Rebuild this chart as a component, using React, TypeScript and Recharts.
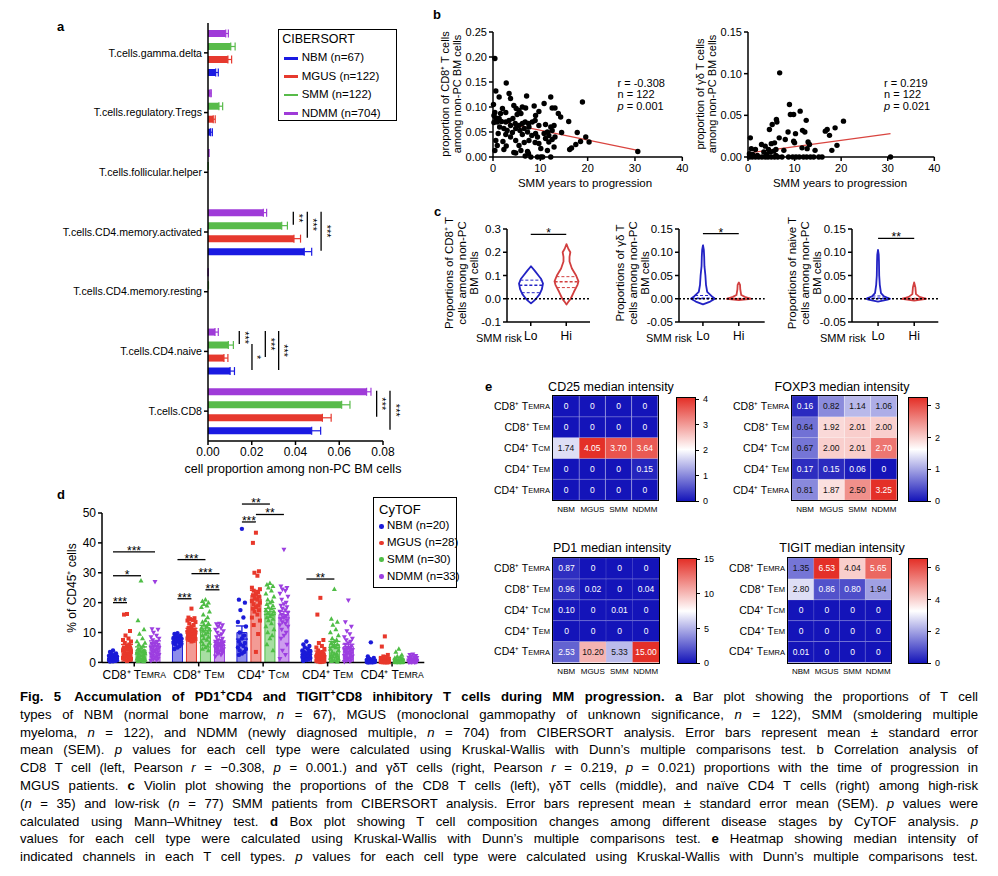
import React from 'react';
import {
  BarChart, Bar, XAxis, YAxis, ErrorBar, ReferenceLine, ScatterChart, Scatter,
  ComposedChart, Cell, LabelList,
} from 'recharts';

const FONT = '"Liberation Sans", Arial, Helvetica, sans-serif';
const BLUE = '#1a1ae2';
const RED = '#e6392e';
const GREEN = '#58bb4a';
const PURPLE = '#9f3bd8';
const AX = { stroke: '#000', strokeWidth: 1.5 };

// ---------- panel a (CIBERSORT) ----------
const aCells = [
  'T.cells.gamma.delta', 'T.cells.regulatory.Tregs', 'T.cells.follicular.helper',
  'T.cells.CD4.memory.activated', 'T.cells.CD4.memory.resting', 'T.cells.CD4.naive', 'T.cells.CD8',
];
const aNBM = [0.0035, 0.0012, 0, 0.044, 0, 0.0101, 0.0474];
const aMGUS = [0.0091, 0.0024, 0, 0.0393, 0, 0.0073, 0.0523];
const aSMM = [0.0104, 0.005, 0.0001, 0.0337, 0.0002, 0.0093, 0.0611];
const aNDMM = [0.0081, 0.001, 0.0004, 0.0253, 0.0001, 0.0032, 0.0725];
const aNBMErr = [0.0012, 0.0008, 0, 0.0034, 0, 0.002, 0.0041];
const aMGUSErr = [0.0017, 0.0009, 0, 0.003, 0, 0.0018, 0.004];
const aSMMErr = [0.002, 0.0017, 0, 0.0026, 0, 0.0023, 0.0038];
const aNDMMErr = [0.0012, 0.0005, 0, 0.0015, 0, 0.0015, 0.002];
const aLegend = ['NBM (n=67)', 'MGUS (n=122)', 'SMM (n=122)', 'NDMM (n=704)'];
// brackets: category, first bar, last bar (0 = NDMM on top), x position in data units
const aSig = [
  { cell: 3, from: 0, to: 1, x: 0.039, label: '**' },
  { cell: 3, from: 0, to: 2, x: 0.0454, label: '***' },
  { cell: 3, from: 0, to: 3, x: 0.0517, label: '***' },
  { cell: 5, from: 0, to: 1, x: 0.0143, label: '***' },
  { cell: 5, from: 1, to: 3, x: 0.0201, label: '*' },
  { cell: 5, from: 0, to: 2, x: 0.0262, label: '***' },
  { cell: 5, from: 0, to: 3, x: 0.0323, label: '***' },
  { cell: 6, from: 0, to: 2, x: 0.0771, label: '***' },
  { cell: 6, from: 0, to: 3, x: 0.0832, label: '***' },
];

// ---------- panel b (correlation) ----------
const cd8Points = [
  [0.4, 0.197], [0.6, 0.132], [2.8, 0.148], [1.3, 0.12], [3.4, 0.127], [3.7, 0.117], [7.1, 0.122], [12.2, 0.12],
  [18.9, 0.11], [0.1, 0.105], [2.0, 0.097], [0.4, 0.089], [0.6, 0.078], [1.6, 0.087], [2.7, 0.089], [4.4, 0.103],
  [4.9, 0.097], [5.5, 0.093], [6.2, 0.1], [6.9, 0.098], [8.7, 0.102], [9.7, 0.091], [9.0, 0.083], [10.8, 0.107],
  [12.5, 0.098], [13.1, 0.098], [13.8, 0.087], [14.3, 0.08], [5.1, 0.085], [5.9, 0.087], [4.2, 0.077], [3.4, 0.073],
  [2.7, 0.07], [1.8, 0.071], [0.9, 0.07], [0.2, 0.069], [4.7, 0.067], [5.5, 0.063], [6.2, 0.067], [6.8, 0.07],
  [7.5, 0.067], [8.3, 0.07], [8.9, 0.073], [4.8, 0.057], [5.7, 0.053], [6.6, 0.057], [7.6, 0.06], [9.7, 0.063],
  [11.1, 0.065], [12.2, 0.06], [12.9, 0.063], [16.0, 0.071], [1.4, 0.06], [2.3, 0.057], [3.0, 0.053], [4.1, 0.049],
  [1.1, 0.047], [2.7, 0.045], [3.7, 0.04], [6.2, 0.045], [7.3, 0.05], [8.2, 0.043], [9.0, 0.047], [10.8, 0.047],
  [11.5, 0.05], [12.5, 0.053], [14.5, 0.049], [11.8, 0.043], [17.8, 0.049], [19.6, 0.04], [20.3, 0.03], [0.6, 0.033],
  [2.1, 0.031], [4.8, 0.033], [7.6, 0.033], [9.4, 0.04], [11.1, 0.037], [12.5, 0.035], [13.1, 0.04], [18.5, 0.031],
  [17.5, 0.025], [16.6, 0.018], [16.2, 0.015], [0.9, 0.023], [2.8, 0.022], [5.5, 0.023], [6.6, 0.029], [8.9, 0.029],
  [9.7, 0.027], [11.8, 0.03], [12.9, 0.02], [0.4, 0.013], [2.3, 0.015], [5.9, 0.013], [7.3, 0.011], [10.1, 0.017],
  [11.5, 0.013], [4.4, 0.009], [4.8, 0.008], [6.8, 0.002], [7.5, 0.007], [9.4, 0], [10.1, 0], [10.5, 0], [12.2, 0],
  [8.0, 0], [30.6, 0.011], [0.2, 0.083], [1.3, 0.077], [3.7, 0.063],
];
const gdPoints = [
  [8.9, 0.063], [9.1, 0.051], [9.8, 0.051], [11.2, 0.055], [12.5, 0.044], [20.5, 0.043], [6.1, 0.045], [6.2, 0.042],
  [5.2, 0.039], [4.6, 0.033], [0.5, 0.023], [8.6, 0.03], [10.2, 0.028], [11.7, 0.032], [12.2, 0.03], [16.6, 0.031],
  [17.0, 0.033], [18.7, 0.035], [17.5, 0.026], [6.7, 0.023], [8.0, 0.021], [9.8, 0.019], [10.0, 0.017], [12.9, 0.018],
  [13.2, 0.015], [19.1, 0.014], [18.0, 0.008], [2.9, 0.015], [3.7, 0.013], [5.0, 0.016], [5.7, 0.017], [4.4, 0.009],
  [4.8, 0.006], [5.5, 0.007], [6.0, 0.009], [3.4, 0.006], [1.6, 0.009], [0.7, 0.01], [0.3, 0.004], [11.6, 0.011],
  [12.7, 0.01], [14.4, 0.008], [7.7, 0.008], [6.8, 0.101], [15.9, 0], [0.3, 0], [0.9, 0], [1.6, 0], [2.3, 0], [3.0, 0],
  [3.7, 0], [4.3, 0], [5.0, 0], [5.7, 0], [6.4, 0], [7.3, 0], [8.7, 0], [9.6, 0], [10.3, 0], [11.0, 0], [11.9, 0],
  [12.6, 0], [13.4, 0], [14.1, 0], [15.2, 0], [30.6, 0], [2.0, 0.002], [4.0, 0.003], [6.0, 0.002], [1.0, 0.003],
];
const cd8Fit = { intercept: 0.073, slope: -0.00195 };
const gdFit = { intercept: 0.0048, slope: 0.00076 };
const cd8Stats = ['-0.308', '122', '0.001'];
const gdStats = ['0.219', '122', '0.021'];

// ---------- panel c (violins) ----------
const riskGroups = ['Lo', 'Hi'];
const cd8LoProfile = [[-0.02, 0], [-0.01, 0.22], [0, 0.42], [0.02, 0.72], [0.04, 0.9], [0.065, 1], [0.085, 0.85], [0.1, 0.62], [0.12, 0.32], [0.14, 0]];
const cd8HiProfile = [[-0.025, 0], [-0.01, 0.2], [0, 0.35], [0.03, 0.62], [0.06, 0.92], [0.075, 1], [0.1, 0.8], [0.13, 0.45], [0.16, 0.25], [0.18, 0.25], [0.2, 0.32], [0.215, 0.15], [0.235, 0]];
const gdLoProfile = [[-0.012, 0], [-0.006, 0.6], [0, 1], [0.006, 0.7], [0.015, 0.35], [0.03, 0.25], [0.05, 0.2], [0.07, 0.12], [0.09, 0.1], [0.105, 0.07], [0.115, 0]];
const gdHiProfile = [[-0.003, 0], [0, 1], [0.004, 0.5], [0.008, 0.2], [0.02, 0.12], [0.03, 0.1], [0.035, 0]];
const naiveLoProfile = [[-0.006, 0], [-0.002, 0.8], [0, 1], [0.005, 0.5], [0.012, 0.25], [0.03, 0.15], [0.05, 0.1], [0.08, 0.08], [0.095, 0.06], [0.105, 0]];
const naiveHiProfile = [[-0.004, 0], [0, 1], [0.004, 0.45], [0.01, 0.15], [0.025, 0.1], [0.035, 0]];
const cd8LoQuart = [0.026, 0.058, 0.08];
const cd8HiQuart = [0.048, 0.073, 0.095];
const gdLoQuart = [0, 0.001, 0.007];
const gdHiQuart = [0, 0, 0.001];
const naiveLoQuart = [0, 0.001, 0.006];
const naiveHiQuart = [0, 0, 0.001];

// ---------- panel d (CyTOF) ----------
const dCells = ['CD8⁺ TEMRA', 'CD8⁺ TEM', 'CD4⁺ TCM', 'CD4⁺ TEM', 'CD4⁺ TEMRA'];
const dLegend = ['NBM (n=20)', 'MGUS (n=28)', 'SMM (n=30)', 'NDMM (n=33)'];
const dNBMMean = [1.6, 7.4, 10.0, 3.1, 0.7];
const dMGUSMean = [5.2, 10.9, 22.5, 3.0, 1.2];
const dSMMMean = [4.2, 11.5, 17.0, 6.0, 0.9];
const dNDMMMean = [6.3, 6.2, 16.0, 5.3, 0.9];
const dNBMSem = [0.3, 0.4, 2.2, 0.4, 0.3];
const dMGUSSem = [0.8, 0.5, 1.6, 0.8, 0.4];
const dSMMSem = [1.0, 0.9, 1.0, 1.0, 0.2];
const dNDMMSem = [0.9, 0.5, 1.1, 0.8, 0.1];
const dNBMPts = [
  [4.0, 3.5, 3.0, 2.8, 2.5, 2.2, 2.0, 1.8, 1.6, 1.5, 1.3, 1.2, 1.0, 0.9, 0.8, 0.7, 0.6, 0.5, 0.4, 0.3],
  [9.8, 9.5, 9.0, 8.8, 8.5, 8.2, 8.0, 7.8, 7.6, 7.5, 7.3, 7.2, 7.0, 6.8, 6.5, 6.2, 6.0, 5.5, 5.0, 4.5],
  [44.7, 21, 20, 17.5, 15, 13.5, 12, 10, 9, 8, 7, 6.5, 6, 5.5, 5, 4.5, 4, 3.5, 3, 2.5],
  [7, 6, 5.5, 5, 4.5, 4, 3.8, 3.5, 3.2, 3, 2.8, 2.5, 2.2, 2, 1.8, 1.5, 1.2, 1, 0.8, 0.5],
  [6.7, 2, 1.5, 1.2, 1, 0.8, 0.6, 0.5, 0.4, 0.3, 0.3, 0.2, 0.2, 0.1, 0.1, 0.1, 0.05, 0.05, 0, 0],
];
const dMGUSPts = [
  [16.2, 16, 10.5, 9, 8, 7.5, 7, 6.5, 6, 5.5, 5, 5, 4.5, 4.2, 4, 3.5, 3.2, 3, 2.8, 2.5, 2.2, 2, 1.8, 1.5, 1.2, 1, 0.8, 0.5],
  [18, 15, 14.8, 14.5, 14.2, 14, 13.5, 13, 12.5, 12, 11.5, 11, 10.8, 10.5, 10.2, 10, 9.8, 9.5, 9.2, 9, 8.8, 8.5, 8.2, 8, 7.8, 7.5, 7.2, 7],
  [43.4, 40, 30.5, 30, 29, 25, 24.5, 24, 23.5, 23, 22.5, 22, 21.5, 21, 20.5, 20, 19.5, 19, 18.5, 18, 17.5, 17, 16, 15, 14, 12.5, 9.5, 3.5],
  [21.6, 16, 7.5, 6.5, 5.5, 5, 4.5, 4, 3.5, 3.2, 3, 2.8, 2.5, 2.2, 2, 1.8, 1.5, 1.3, 1.2, 1, 0.9, 0.8, 0.6, 0.5, 0.4, 0.3, 0.2, 0.1],
  [8.7, 5.3, 2.5, 2, 1.8, 1.5, 1.2, 1, 0.9, 0.8, 0.7, 0.6, 0.5, 0.5, 0.4, 0.4, 0.3, 0.3, 0.2, 0.2, 0.2, 0.1, 0.1, 0.1, 0.05, 0.05, 0, 0],
];
const dSMMPts = [
  [27.3, 14, 11, 9.5, 8, 7, 6.5, 6, 5.5, 5, 4.5, 4, 4, 3.5, 3.2, 3, 2.8, 2.5, 2.2, 2, 1.8, 1.6, 1.4, 1.2, 1, 0.8, 0.6, 0.5, 0.4, 0.3],
  [21, 20.5, 20, 19.5, 19, 18.5, 17, 16, 15, 14, 13.5, 13, 12.5, 12, 11.5, 11, 10.5, 10, 9.5, 9, 8.5, 8, 7.5, 7, 6.5, 6, 5.5, 5, 4.5, 4],
  [26.5, 26, 25.5, 25, 24, 23, 22, 21, 20.5, 20, 19.5, 19, 18.5, 18, 17.5, 17, 16.5, 16, 15.5, 15, 14.5, 14, 13, 12, 11, 10, 9, 8, 6, 4],
  [24.5, 14.5, 13.5, 12.5, 11, 10, 9, 8, 7.5, 7, 6.5, 6, 5.5, 5, 4.5, 4, 3.5, 3, 2.8, 2.5, 2.2, 2, 1.8, 1.5, 1.2, 1, 0.8, 0.6, 0.4, 0.2],
  [4.5, 3.5, 2.5, 2, 1.8, 1.5, 1.2, 1, 0.9, 0.8, 0.7, 0.6, 0.5, 0.5, 0.4, 0.4, 0.3, 0.3, 0.2, 0.2, 0.2, 0.1, 0.1, 0.1, 0.1, 0.05, 0.05, 0, 0, 0],
];
const dNDMMPts = [
  [27, 11.2, 11, 10, 9, 8.5, 8, 7.5, 7, 6.5, 6.2, 6, 5.5, 5.2, 5, 4.8, 4.5, 4.2, 4, 3.8, 3.5, 3.2, 3, 2.8, 2.5, 2.2, 2, 1.8, 1.5, 1.2, 1, 0.8, 0.5],
  [13, 12.8, 12.5, 12, 11.5, 11, 10.5, 10, 9.5, 9, 8.5, 8, 7.5, 7.2, 7, 6.8, 6.5, 6.2, 6, 5.8, 5.5, 5.2, 5, 4.8, 4.5, 4.2, 4, 3.8, 3.5, 3.2, 3, 2.5, 2],
  [37.8, 25.5, 25, 24.5, 24, 23, 22, 21, 20, 19.5, 19, 18.5, 18, 17.5, 17, 16.5, 16, 15.5, 15, 14.5, 14, 13.5, 13, 12.5, 12, 11, 10, 9, 8, 6, 4, 2.5, 1.2],
  [20.8, 13.5, 12, 10.5, 9.5, 8.5, 8, 7.5, 7, 6.5, 6, 5.5, 5, 4.8, 4.5, 4.2, 4, 3.8, 3.5, 3.2, 3, 2.8, 2.5, 2.2, 2, 1.8, 1.5, 1.2, 1, 0.8, 0.6, 0.4, 0.2],
  [2.7, 2.5, 2.2, 2, 1.8, 1.6, 1.5, 1.4, 1.2, 1.1, 1, 0.9, 0.8, 0.8, 0.7, 0.6, 0.6, 0.5, 0.5, 0.4, 0.4, 0.3, 0.3, 0.3, 0.2, 0.2, 0.2, 0.1, 0.1, 0.1, 0.05, 0.05, 0],
];
// brackets: category, bar from/to (0 = NBM), height in %
const dSig = [
  { cell: 0, from: 0, to: 1, y: 20, label: '***' },
  { cell: 0, from: 0, to: 2, y: 29, label: '*' },
  { cell: 0, from: 0, to: 3, y: 37, label: '***' },
  { cell: 1, from: 0, to: 1, y: 21.3, label: '***' },
  { cell: 1, from: 0, to: 2, y: 34.4, label: '***' },
  { cell: 1, from: 1, to: 3, y: 29.7, label: '***' },
  { cell: 1, from: 2, to: 3, y: 24.3, label: '***' },
  { cell: 2, from: 0, to: 1, y: 47, label: '***' },
  { cell: 2, from: 0, to: 2, y: 53, label: '**' },
  { cell: 2, from: 1, to: 3, y: 49.5, label: '**' },
  { cell: 3, from: 0, to: 2, y: 27.9, label: '**' },
];

// ---------- panel e (heatmaps) ----------
const hmCols = ['NBM', 'MGUS', 'SMM', 'NDMM'];
const hmRows = ['CD8⁺ TEMRA', 'CD8⁺ TEM', 'CD4⁺ TCM', 'CD4⁺ TEM', 'CD4⁺ TEMRA'];
const cd25Values = [[0, 0, 0, 0], [0, 0, 0, 0], [1.74, 4.05, 3.70, 3.64], [0, 0, 0, 0.15], [0, 0, 0, 0]];
const foxp3Values = [[0.16, 0.82, 1.14, 1.06], [0.64, 1.92, 2.01, 2.00], [0.67, 2.00, 2.01, 2.70], [0.17, 0.15, 0.06, 0], [0.81, 1.87, 2.50, 3.25]];
const pd1Values = [[0.87, 0, 0, 0], [0.96, 0.02, 0, 0.04], [0.10, 0, 0.01, 0], [0, 0, 0, 0], [2.53, 10.20, 5.33, 15.00]];
const tigitValues = [[1.35, 6.53, 4.04, 5.65], [2.80, 0.86, 0.80, 1.94], [0, 0, 0, 0], [0, 0, 0, 0], [0.01, 0, 0, 0]];

// ---------- helpers ----------
const HEAT_BLUE = [20, 20, 185];
const HEAT_RED = [228, 48, 40];
const mix = (a: number[], b: number[], t: number) => a.map((v, i) => Math.round(v + (b[i] - v) * t));
const rgb = (c: number[]) => `rgb(${c[0]},${c[1]},${c[2]})`;
function heat(t: number) {
  const u = Math.max(0, Math.min(1, t));
  return u < 0.5 ? rgb(mix(HEAT_BLUE, [255, 255, 255], u / 0.5)) : rgb(mix([255, 255, 255], HEAT_RED, (u - 0.5) / 0.5));
}

function frame(pl: number, pt: number, pr: number, pb: number, yw: number, xh: number, mt = 12, mr = 14) {
  return {
    left: pl - yw, top: pt - mt, width: pr - pl + yw + mr, height: pb - pt + mt + xh,
    margin: { top: mt, right: mr, left: 0, bottom: 0 },
  };
}

function Txt({ x, y, children, size = 11, anchor = 'start', weight = 400, style = {} }: any) {
  const tx = anchor === 'middle' ? '-50%' : anchor === 'end' ? '-100%' : '0';
  return (
    <div style={{ position: 'absolute', left: x, top: y, transform: `translate(${tx},-50%)`, fontSize: size, fontWeight: weight, whiteSpace: 'nowrap', lineHeight: 1.15, ...style }}>
      {children}
    </div>
  );
}

function VLabel({ cx, cy, lines, size = 11, lh = 12 }: any) {
  return (
    <div style={{ position: 'absolute', left: cx, top: cy, transform: 'translate(-50%,-50%) rotate(-90deg)', fontSize: size, lineHeight: `${lh}px`, textAlign: 'center', whiteSpace: 'nowrap' }}>
      {lines.map((l: any, i: number) => <div key={i}>{l}</div>)}
    </div>
  );
}

function CellTypeText({ x, y, text, anchor, size }: any) {
  const cut = text.lastIndexOf(' T') + 2;
  return (
    <text x={x} y={y} textAnchor={anchor} dominantBaseline="central" fontFamily={FONT} fontSize={size} fill="#000">
      {text.slice(0, cut)}<tspan fontSize={size * 0.72}>{text.slice(cut)}</tspan>
    </text>
  );
}

const VStar = (p: any) => {
  const vb = p.viewBox || { x: 0, y: 0, width: 0, height: 0 };
  const cx = vb.x + (vb.width || 0) + 5.5;
  const cy = vb.y + (vb.height || 0) / 2;
  return (
    <text x={cx} y={cy} transform={`rotate(90 ${cx} ${cy})`} textAnchor="middle" dominantBaseline="central" fontSize={11} fontFamily={FONT} fill="#000">
      {p.value}
    </text>
  );
};

// transparent chart laid over a plot area, sharing its scales, for significance brackets
function Overlay({ pl, pt, pr, pb, xDomain, yDomain, yReversed = false, children }: any) {
  const m = 24;
  return (
    <div style={{ position: 'absolute', left: pl - m, top: pt - m, pointerEvents: 'none' }}>
      <ScatterChart width={pr - pl + 2 * m} height={pb - pt + 2 * m} margin={{ top: m, right: m, bottom: m, left: m }}>
        <XAxis type="number" dataKey="x" domain={xDomain} allowDataOverflow hide />
        <YAxis type="number" dataKey="y" domain={yDomain} allowDataOverflow reversed={yReversed} hide />
        <Scatter data={[]} isAnimationActive={false} />
        {children}
      </ScatterChart>
    </div>
  );
}

// ---------- panel a ----------
const A_BAR = 7;
const A_GAP = 6;
function PanelA() {
  const pl = 208, pt = 23, pr = 383, pb = 441;
  const f = frame(pl, pt, pr, pb, 208, 30, 12, 20);
  const table = aCells.map((name, i) => ({
    name,
    NDMM: aNDMM[i], NDMMe: [0, aNDMMErr[i]],
    SMM: aSMM[i], SMMe: [0, aSMMErr[i]],
    MGUS: aMGUS[i], MGUSe: [0, aMGUSErr[i]],
    NBM: aNBM[i], NBMe: [0, aNBMErr[i]],
  }));
  const series = [
    { key: 'NDMM', color: PURPLE }, { key: 'SMM', color: GREEN },
    { key: 'MGUS', color: RED }, { key: 'NBM', color: BLUE },
  ];
  const band = (pb - pt) / aCells.length;
  const off = Math.floor((band - (4 * A_BAR + 3 * A_GAP)) / 2);
  const slot = (cell: number, k: number) => cell + (off + k * (A_BAR + A_GAP) + A_BAR / 2) / band;
  return (
    <>
      <div style={{ position: 'absolute', left: f.left, top: f.top }}>
        <BarChart layout="vertical" width={f.width} height={f.height} data={table} margin={f.margin} barGap={A_GAP}>
          <XAxis type="number" domain={[0, 0.08]} ticks={[0, 0.02, 0.04, 0.06, 0.08]} tickFormatter={(v: number) => v.toFixed(2)}
            axisLine={AX} tickLine={AX} tickSize={4} height={30} tick={{ fill: '#000', fontSize: 12, fontFamily: FONT }} />
          <YAxis type="category" dataKey="name" width={208} axisLine={AX} tickLine={AX} tickSize={4} interval={0}
            tick={{ fill: '#000', fontSize: 10.6, fontFamily: FONT }} />
          {series.map((s) => (
            <Bar key={s.key} dataKey={s.key} fill={s.color} barSize={A_BAR} isAnimationActive={false}>
              <ErrorBar dataKey={s.key + 'e'} direction="x" width={4} stroke={s.color} strokeWidth={1.2} />
            </Bar>
          ))}
        </BarChart>
      </div>
      <Overlay pl={pl} pt={pt} pr={pr} pb={pb} xDomain={[0, 0.08]} yDomain={[0, aCells.length]} yReversed>
        {aSig.map((s, i) => (
          <ReferenceLine key={i} ifOverflow="visible" stroke="#000" strokeWidth={1.3}
            segment={[{ x: s.x, y: slot(s.cell, s.from) }, { x: s.x, y: slot(s.cell, s.to) }]}
            label={{ value: s.label, content: VStar }} />
        ))}
      </Overlay>
    </>
  );
}

// ---------- panel b ----------
function ScatterPanel({ points, fit, pl, pr, yMax, yTicks }: any) {
  const f = frame(pl, 31.7, pr, 156.7, 34, 20, 8, 10);
  const data = points.map(([x, y]: number[]) => ({ x, y }));
  const xEnd = Math.max(...points.map((p: number[]) => p[0]));
  return (
    <div style={{ position: 'absolute', left: f.left, top: f.top }}>
      <ScatterChart width={f.width} height={f.height} margin={f.margin}>
        <XAxis type="number" dataKey="x" domain={[0, 40]} ticks={[0, 10, 20, 30, 40]} axisLine={AX} tickLine={AX} tickSize={4} tickMargin={3}
          height={20} tick={{ fill: '#000', fontSize: 11, fontFamily: FONT }} />
        <YAxis type="number" dataKey="y" domain={[0, yMax]} ticks={yTicks} tickFormatter={(v: number) => v.toFixed(2)} width={34}
          axisLine={AX} tickLine={AX} tickSize={4} tick={{ fill: '#000', fontSize: 11, fontFamily: FONT }} />
        <ReferenceLine ifOverflow="visible" stroke="#d9443f" strokeWidth={1.2}
          segment={[{ x: 0, y: fit.intercept }, { x: xEnd, y: fit.intercept + fit.slope * xEnd }]} />
        <Scatter data={data} isAnimationActive={false} shape={(p: any) => <circle cx={p.cx} cy={p.cy} r={2.7} fill="#000" />} />
      </ScatterChart>
    </div>
  );
}

// ---------- panel c ----------
const VIOLIN_HW = 12;
const violinColors = ['#2323c4', '#d23f3f'];
function ViolinShape(p: any) {
  const { x, y, width, height, payload, index } = p;
  const prof: number[][] = payload.prof;
  const lo = prof[0][0];
  const hi = prof[prof.length - 1][0];
  const top = Math.min(y, y + height);
  const h = Math.abs(height);
  const py = (v: number) => top + (h * (hi - v)) / (hi - lo);
  const cx = x + width / 2;
  const color = violinColors[index % 2];
  const widthAt = (v: number) => {
    for (let i = 1; i < prof.length; i++) {
      if (v <= prof[i][0]) {
        const t = (v - prof[i - 1][0]) / (prof[i][0] - prof[i - 1][0] || 1);
        return prof[i - 1][1] + (prof[i][1] - prof[i - 1][1]) * t;
      }
    }
    return 0;
  };
  const right = prof.map(([v, w]) => `${cx + w * VIOLIN_HW},${py(v)}`);
  const left = prof.slice().reverse().map(([v, w]) => `${cx - w * VIOLIN_HW},${py(v)}`);
  return (
    <g>
      <polygon points={[...right, ...left].join(' ')} fill="none" stroke={color} strokeWidth={1.8} strokeLinejoin="round" />
      {payload.quart.map((q: number, i: number) => {
        const w = widthAt(q) * VIOLIN_HW;
        return <line key={i} x1={cx - w} x2={cx + w} y1={py(q)} y2={py(q)} stroke={color} strokeWidth={i === 1 ? 1.4 : 1} strokeDasharray="3 2" />;
      })}
    </g>
  );
}

function ViolinPanel({ profiles, quarts, pl, pr, pad, domain, ticks, digits, sig }: any) {
  const f = frame(pl, 229, pr, 322, 36, 24, 14, 6);
  const data = riskGroups.map((g, i) => ({
    g, r: [profiles[i][0][0], profiles[i][profiles[i].length - 1][0]], prof: profiles[i], quart: quarts[i],
  }));
  return (
    <div style={{ position: 'absolute', left: f.left, top: f.top }}>
      <BarChart width={f.width} height={f.height} data={data} margin={f.margin} barSize={24}>
        <XAxis dataKey="g" padding={pad} axisLine={AX} tickLine={AX} tickSize={4} tickMargin={5} height={24}
          tick={{ fill: '#000', fontSize: 12, fontFamily: FONT }} />
        <YAxis type="number" domain={domain} ticks={ticks} tickFormatter={(v: number) => v.toFixed(digits)} width={36}
          axisLine={AX} tickLine={AX} tickSize={4} tick={{ fill: '#000', fontSize: 11.5, fontFamily: FONT }} />
        <ReferenceLine y={0} stroke="#000" strokeWidth={1.6} strokeDasharray="2 2" />
        <Bar dataKey="r" shape={ViolinShape} isAnimationActive={false} />
        <ReferenceLine ifOverflow="visible" stroke="#000" strokeWidth={1.3}
          segment={[{ x: 'Lo', y: sig.y }, { x: 'Hi', y: sig.y }]}
          label={{ value: sig.label, position: 'top', offset: -3, fontSize: 12, fill: '#000', fontFamily: FONT }} />
      </BarChart>
    </div>
  );
}

// ---------- panel d ----------
const D_BAR = 10;
const D_GAP = 4;
const SPREAD = [0, -3, 3, -1.5, 1.5, -4, 4, -2.2, 2.2];
function marker(k: number, color: string, x: number, y: number) {
  if (k === 0) return <circle cx={x} cy={y} r={2.2} fill={color} />;
  if (k === 1) return <rect x={x - 2} y={y - 2} width={4} height={4} fill={color} />;
  if (k === 2) return <polygon points={`${x},${y - 2.7} ${x - 2.5},${y + 1.8} ${x + 2.5},${y + 1.8}`} fill={color} />;
  return <polygon points={`${x},${y + 2.7} ${x - 2.5},${y - 1.8} ${x + 2.5},${y - 1.8}`} fill={color} />;
}
function PanelD() {
  const pl = 101.7, pr = 424, pt = 513.3, pb = 662.7;
  const f = frame(pl, pt, pr, pb, 22, 24, 28, 6);
  const series = [
    { key: 'NBM', color: '#1b1bd8', mean: dNBMMean, sem: dNBMSem, pts: dNBMPts },
    { key: 'MGUS', color: '#e8382b', mean: dMGUSMean, sem: dMGUSSem, pts: dMGUSPts },
    { key: 'SMM', color: '#4fbd46', mean: dSMMMean, sem: dSMMSem, pts: dSMMPts },
    { key: 'NDMM', color: '#9c3ee0', mean: dNDMMMean, sem: dNDMMSem, pts: dNDMMPts },
  ];
  const table = dCells.map((cell, i) => {
    const row: any = { cell };
    series.forEach((s) => { row[s.key] = s.mean[i]; row[s.key + 'e'] = s.sem[i]; });
    return row;
  });
  const band = (pr - pl) / dCells.length;
  const off = Math.floor((band - (4 * D_BAR + 3 * D_GAP)) / 2);
  const slotPx = (k: number) => off + k * (D_BAR + D_GAP) + D_BAR / 2;
  const slot = (cell: number, k: number) => cell + slotPx(k) / band;
  return (
    <>
      <div style={{ position: 'absolute', left: f.left, top: f.top }}>
        <ComposedChart width={f.width} height={f.height} data={table} margin={f.margin} barGap={D_GAP}>
          <XAxis dataKey="cell" type="category" allowDuplicatedCategory={false} axisLine={AX} tickLine={AX} tickSize={4} height={24} interval={0}
            tick={(p: any) => <CellTypeText x={p.x} y={p.y + 7} text={p.payload.value} anchor="middle" size={12} />} />
          <YAxis type="number" domain={[0, 50]} ticks={[0, 10, 20, 30, 40, 50]} width={22} axisLine={AX} tickLine={AX} tickSize={4}
            tick={{ fill: '#000', fontSize: 12, fontFamily: FONT }} />
          {series.map((s) => (
            <Bar key={s.key} dataKey={s.key} barSize={D_BAR} fill={s.color} fillOpacity={0.5} stroke={s.color} strokeWidth={1} isAnimationActive={false}>
              <ErrorBar dataKey={s.key + 'e'} direction="y" width={6} stroke={s.color} strokeWidth={1.3} />
            </Bar>
          ))}
          {series.map((s, k) => (
            <Scatter key={s.key + 'p'} isAnimationActive={false} dataKey="v"
              data={s.pts.flatMap((arr, ci) => arr.map((v, j) => ({ cell: dCells[ci], v, j })))}
              shape={(p: any) => marker(k, s.color, p.cx - band / 2 + slotPx(k) + SPREAD[p.payload.j % SPREAD.length], p.cy)} />
          ))}
        </ComposedChart>
      </div>
      <Overlay pl={pl} pt={pt} pr={pr} pb={pb} xDomain={[0, dCells.length]} yDomain={[0, 50]}>
        {dSig.map((s, i) => (
          <ReferenceLine key={i} ifOverflow="visible" stroke="#000" strokeWidth={1.3}
            segment={[{ x: slot(s.cell, s.from), y: s.y }, { x: slot(s.cell, s.to), y: s.y }]}
            label={{ value: s.label, position: 'top', offset: -3, fontSize: 12, fill: '#000', fontFamily: FONT }} />
        ))}
      </Overlay>
    </>
  );
}

// ---------- panel e ----------
function RowTick(p: any) {
  const idx = hmRows.length - 1 - Math.floor(p.payload.value);
  return <CellTypeText x={p.x} y={p.y} text={hmRows[idx]} anchor="end" size={10.5} />;
}
function HeatLabel(p: any) {
  const { x, y, width, height, value, max } = p;
  const t = value / max;
  const fill = t < 0.18 || t > 0.8 ? '#fff' : '#111';
  return (
    <text x={x + width / 2} y={y + height / 2} textAnchor="middle" dominantBaseline="central" fontSize={8.5} fontFamily={FONT} fill={fill}>
      {value === 0 ? '0' : value.toFixed(2)}
    </text>
  );
}
function Heatmap({ values, max, pl, pt, pr, pb }: any) {
  const f = frame(pl, pt, pr, pb, 80, 18, 2, 2);
  const table = hmCols.map((col, ci) => {
    const row: any = { col };
    values.forEach((rv: number[], ri: number) => { row['u' + ri] = 1; row['v' + ri] = rv[ci]; });
    return row;
  });
  const order = hmRows.map((_, i) => hmRows.length - 1 - i);
  return (
    <>
      <div style={{ position: 'absolute', left: f.left, top: f.top }}>
        <BarChart width={f.width} height={f.height} data={table} margin={f.margin} barCategoryGap={0} barGap={0}>
          <XAxis dataKey="col" axisLine={false} tickLine={false} tickSize={0} tickMargin={6} height={18} interval={0}
            tick={{ fill: '#000', fontSize: 8, fontFamily: FONT }} />
          <YAxis type="number" domain={[0, hmRows.length]} ticks={[0.5, 1.5, 2.5, 3.5, 4.5]} width={80} axisLine={false} tickLine={false}
            tickSize={0} tickMargin={3} interval={0} tick={<RowTick />} />
          {order.map((ri) => (
            <Bar key={ri} dataKey={'u' + ri} stackId="h" isAnimationActive={false}>
              {table.map((_, ci) => (
                <Cell key={ci} fill={heat(values[ri][ci] / max)} stroke="rgba(255,255,255,0.3)" strokeWidth={0.5} />
              ))}
              <LabelList dataKey={'v' + ri} content={(p: any) => <HeatLabel {...p} max={max} />} />
            </Bar>
          ))}
        </BarChart>
      </div>
      <div style={{ position: 'absolute', left: pl - 1, top: pt - 1, width: pr - pl, height: pb - pt, border: '1px solid #000', pointerEvents: 'none' }} />
    </>
  );
}
function ColorBar({ left, top, height, max, ticks }: any) {
  return (
    <div style={{ position: 'absolute', left, top, width: 18, height, border: '1px solid #000',
      background: `linear-gradient(to top, ${rgb(HEAT_BLUE)}, #ffffff, ${rgb(HEAT_RED)})` }}>
      {ticks.map((t: number) => {
        const yy = height * (1 - t / max);
        return (
          <React.Fragment key={t}>
            <div style={{ position: 'absolute', left: 19, top: yy - 0.5, width: 3, height: 1, background: '#000' }} />
            <div style={{ position: 'absolute', left: 26, top: yy, transform: 'translateY(-50%)', fontSize: 9, lineHeight: 1 }}>{t}</div>
          </React.Fragment>
        );
      })}
    </div>
  );
}

// ---------- caption ----------
const sup = (s: string) => <span style={{ fontSize: '0.72em', verticalAlign: 'super', lineHeight: 0 }}>{s}</span>;
const captionLines = [
  <><b>Fig. 5&emsp;Accumulation of PD1{sup('+')}CD4 and TIGIT{sup('+')}CD8 inhibitory T cells during MM progression.</b> <b>a</b> Bar plot showing the proportions of T cell</>,
  <>types of NBM (normal bone marrow, <i>n</i> = 67), MGUS (monoclonal gammopathy of unknown significance, <i>n</i> = 122), SMM (smoldering multiple</>,
  <>myeloma, <i>n</i> = 122), and NDMM (newly diagnosed multiple, <i>n</i> = 704) from CIBERSORT analysis. Error bars represent mean ± standard error</>,
  <>mean (SEM). <i>p</i> values for each cell type were calculated using Kruskal-Wallis with Dunn’s multiple comparisons test. b Correlation analysis of</>,
  <>CD8 T cell (left, Pearson <i>r</i> = −0.308, <i>p</i> = 0.001.) and γδT cells (right, Pearson <i>r</i> = 0.219, <i>p</i> = 0.021) proportions with the time of progression in</>,
  <>MGUS patients. <b>c</b> Violin plot showing the proportions of the CD8 T cells (left), γδT cells (middle), and naïve CD4 T cells (right) among high-risk</>,
  <>(<i>n</i> = 35) and low-risk (<i>n</i> = 77) SMM patients from CIBERSORT analysis. Error bars represent mean ± standard error mean (SEM). <i>p</i> values were</>,
  <>calculated using Mann–Whitney test. <b>d</b> Box plot showing T cell composition changes among different disease stages by CyTOF analysis. <i>p</i></>,
  <>values for each cell type were calculated using Kruskal-Wallis with Dunn’s multiple comparisons test. <b>e</b> Heatmap showing median intensity of</>,
  <>indicated channels in each T cell types. <i>p</i> values for each cell type were calculated using Kruskal-Wallis with Dunn’s multiple comparisons test.</>,
];

function Stats({ x, vals }: any) {
  return (
    <>
      <Txt x={x} y={82.7} size={11}>r = {vals[0]}</Txt>
      <Txt x={x} y={94.3} size={11}>n = {vals[1]}</Txt>
      <Txt x={x} y={106} size={11}><i>p</i> = {vals[2]}</Txt>
    </>
  );
}

export default function App() {
  const aColors = [BLUE, RED, GREEN, PURPLE];
  const dColors = ['#1b1bd8', '#e8382b', '#4fbd46', '#9c3ee0'];
  return (
    <div style={{ position: 'absolute', left: 0, top: 0, width: 998, height: 876, overflow: 'hidden', background: '#fff', fontFamily: FONT, color: '#000' }}>
      {/* panel letters */}
      <Txt x={57} y={27} size={13} weight={700}>a</Txt>
      <Txt x={433} y={15} size={13} weight={700}>b</Txt>
      <Txt x={434} y={212} size={13} weight={700}>c</Txt>
      <Txt x={57} y={495} size={13} weight={700}>d</Txt>
      <Txt x={485} y={387} size={13} weight={700}>e</Txt>

      {/* a */}
      <PanelA />
      <Txt x={293} y={469} size={12.5} anchor="middle">cell proportion among non-PC BM cells</Txt>
      <div style={{ position: 'absolute', left: 277.7, top: 29, width: 119, height: 92, border: '1.5px solid #000', boxSizing: 'border-box', background: '#fff' }}>
        <Txt x={3.5} y={8.5} size={12.5}>CIBERSORT</Txt>
        {aLegend.map((l, i) => (
          <React.Fragment key={l}>
            <div style={{ position: 'absolute', left: 5, top: 27 + i * 18.4, width: 14, height: 2.5, background: aColors[i] }} />
            <Txt x={23} y={28.3 + i * 18.4} size={11.5}>{l}</Txt>
          </React.Fragment>
        ))}
      </div>

      {/* b */}
      <ScatterPanel points={cd8Points} fit={cd8Fit} pl={492.5} pr={681.8} yMax={0.25} yTicks={[0, 0.05, 0.1, 0.15, 0.2, 0.25]} />
      <ScatterPanel points={gdPoints} fit={gdFit} pl={748} pr={934.3} yMax={0.15} yTicks={[0, 0.05, 0.1, 0.15]} />
      <VLabel cx={450.5} cy={94} lines={['proportion of CD8⁺ T cells', 'among non-PC BM cells']} size={11} lh={11.5} />
      <VLabel cx={705.5} cy={94} lines={['proportion of γδ T cells', 'among non-PC BM cells']} size={11} lh={11.5} />
      <Txt x={585} y={184} size={11.5} anchor="middle">SMM years to progression</Txt>
      <Txt x={840} y={184} size={11.5} anchor="middle">SMM years to progression</Txt>
      <Stats x={617.5} vals={cd8Stats} />
      <Stats x={884} vals={gdStats} />

      {/* c */}
      <ViolinPanel profiles={[cd8LoProfile, cd8HiProfile]} quarts={[cd8LoQuart, cd8HiQuart]} pl={507} pr={590} pad={{ left: 6, right: 6 }}
        domain={[-0.1, 0.3]} ticks={[-0.1, 0, 0.1, 0.2, 0.3]} digits={1} sig={{ y: 0.277, label: '*' }} />
      <ViolinPanel profiles={[gdLoProfile, gdHiProfile]} quarts={[gdLoQuart, gdHiQuart]} pl={679.3} pr={765} pad={{ left: 6, right: 8 }}
        domain={[-0.05, 0.15]} ticks={[-0.05, 0, 0.05, 0.1, 0.15]} digits={2} sig={{ y: 0.14, label: '*' }} />
      <ViolinPanel profiles={[naiveLoProfile, naiveHiProfile]} quarts={[naiveLoQuart, naiveHiQuart]} pl={851.7} pr={938} pad={{ left: 8, right: 6 }}
        domain={[-0.05, 0.15]} ticks={[-0.05, 0, 0.05, 0.1, 0.15]} digits={2} sig={{ y: 0.13, label: '**' }} />
      <VLabel cx={462} cy={273} lines={['Proportions of CD8⁺ T', 'cells among non-PC', 'BM cells']} size={11.5} lh={12.5} />
      <VLabel cx={632.5} cy={273} lines={['Proportions of γδ T', 'cells among non-PC', 'BM cells']} size={11.5} lh={12.5} />
      <VLabel cx={804.5} cy={273} lines={['Proportions of naive T', 'cells among non-PC', 'BM cells']} size={11.5} lh={12.5} />
      <Txt x={476} y={337.7} size={11}>SMM risk</Txt>
      <Txt x={646} y={337.7} size={11}>SMM risk</Txt>
      <Txt x={820} y={337.7} size={11}>SMM risk</Txt>

      {/* d */}
      <PanelD />
      <VLabel cx={71.5} cy={588} lines={['% of CD45⁺ cells']} size={12} />
      <div style={{ position: 'absolute', left: 373, top: 497, width: 84, height: 91, border: '1.5px solid #000', boxSizing: 'border-box', background: '#fff' }}>
        <Txt x={5} y={11.5} size={13}>CyTOF</Txt>
        {dLegend.map((l, i) => (
          <React.Fragment key={l}>
            <div style={{ position: 'absolute', left: 5, top: 28 + i * 16.7 - 2, width: 4.5, height: 4.5, borderRadius: '50%', background: dColors[i] }} />
            <Txt x={13} y={28.4 + i * 16.7} size={11.5}>{l}</Txt>
          </React.Fragment>
        ))}
      </div>

      {/* e */}
      <Txt x={611} y={386.7} size={12.5} anchor="middle">CD25 median intensity</Txt>
      <Txt x={842} y={386.7} size={12.5} anchor="middle">FOXP3 median intensity</Txt>
      <Txt x={612} y={547.7} size={12.5} anchor="middle">PD1 median intensity</Txt>
      <Txt x={842} y={547.7} size={12.5} anchor="middle">TIGIT median intensity</Txt>
      <Heatmap values={cd25Values} max={4.05} pl={553} pt={396} pr={658} pb={500} />
      <Heatmap values={foxp3Values} max={3.25} pl={792} pt={396} pr={897} pb={500} />
      <Heatmap values={pd1Values} max={15} pl={553} pt={558.3} pr={659} pb={662.7} />
      <Heatmap values={tigitValues} max={6.53} pl={788} pt={558.3} pr={891} pb={662.7} />
      <ColorBar left={676} top={397} height={103} max={4.05} ticks={[0, 1, 2, 3, 4]} />
      <ColorBar left={908} top={397} height={103} max={3.25} ticks={[0, 1, 2, 3]} />
      <ColorBar left={677} top={558.3} height={104} max={15} ticks={[0, 5, 10, 15]} />
      <ColorBar left={908} top={558.3} height={104} max={6.53} ticks={[0, 2, 4, 6]} />

      {/* caption */}
      <div style={{ position: 'absolute', left: 20, top: 688, width: 958, fontSize: 13.2, lineHeight: '17.8px' }}>
        {captionLines.map((l, i) => (
          <div key={i} style={{ textAlign: 'justify', textAlignLast: 'justify', whiteSpace: 'nowrap' }}>{l}</div>
        ))}
      </div>
    </div>
  );
}
